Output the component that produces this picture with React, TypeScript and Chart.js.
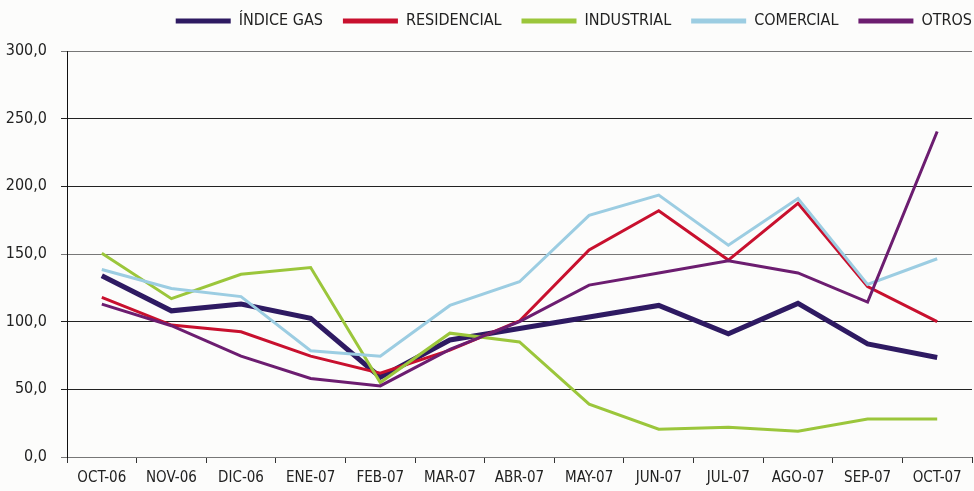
import React, { useEffect, useRef } from "react";
import { Chart, registerables } from "chart.js";

Chart.register(...registerables);

const categories = ["OCT-06", "NOV-06", "DIC-06", "ENE-07", "FEB-07", "MAR-07", "ABR-07", "MAY-07", "JUN-07", "JUL-07", "AGO-07", "SEP-07", "OCT-07"];
const indiceGas = [134, 108, 113, 102.5, 59, 86.5, 95, 103.5, 112, 91, 113.5, 83.5, 73.5];
const residencial = [118, 97.5, 92.5, 74.5, 62, 79, 100.5, 153, 182, 145.5, 187.5, 126, 100];
const industrial = [150.5, 117, 135, 140, 55, 91.5, 85, 39, 20.5, 22, 19, 28, 28];
const comercial = [138.5, 124.5, 118.5, 78.5, 74.5, 112, 129.5, 178.5, 193.5, 156.5, 191, 127.5, 146.5];
const otros = [113, 97, 74.5, 58, 52.5, 79.5, 100, 127, 136, 145, 136, 114.5, 240.5];
const seriesNames = ["ÍNDICE GAS", "RESIDENCIAL", "INDUSTRIAL", "COMERCIAL", "OTROS"];

const FONT = "'Liberation Sans Narrow', 'DejaVu Sans Condensed', sans-serif";

export default function App() {
  const ref = useRef<HTMLCanvasElement | null>(null);
  useEffect(() => {
    if (!ref.current) return;
    const colors = ["#2e1a62", "#c8102e", "#9bc63b", "#9ccde2", "#6c1d70"];
    const widths = [5, 3, 3, 3, 3];
    const values = [indiceGas, residencial, industrial, comercial, otros];
    const bg = {
      id: "bg",
      beforeDraw(chart: any) {
        const c = chart.ctx;
        c.save();
        c.fillStyle = "#fcfcfb";
        c.fillRect(0, 0, chart.width, chart.height);
        c.restore();
      },
    };
    const legendH = {
      id: "legendH",
      beforeInit(chart: any) {
        const lg = chart.legend;
        if (!lg) return;
        const fit = lg.fit;
        lg.fit = function () {
          fit.call(this);
          this.height = 51;
        };
        const draw = lg.draw;
        lg.draw = function (...args: any[]) {
          const c = this.ctx;
          c.save();
          c.translate(20, -7);
          draw.apply(this, args);
          c.restore();
        };
      },
    };
    const chart = new Chart(ref.current, {
      type: "line",
      data: {
        labels: categories,
        datasets: values.map((v, i) => ({
          label: seriesNames[i],
          data: v,
          borderColor: colors[i],
          backgroundColor: colors[i],
          borderWidth: widths[i],
          pointRadius: 0,
          tension: 0,
          fill: false,
          order: 4 - i,
        })),
      },
      options: {
        responsive: false,
        animation: false,
        layout: { padding: { left: 0, right: 2, top: 0, bottom: 0 } },
        plugins: {
          tooltip: { enabled: false },
          legend: {
            position: "top",
            align: "end",
            labels: {
              boxWidth: 55,
              boxHeight: 5,
              padding: 20,
              color: "#222",
              font: { family: FONT, size: 16 },
              sort: (a: any, b: any) => a.datasetIndex - b.datasetIndex,
              generateLabels: (chart: any) =>
                chart.data.datasets.map((d: any, i: number) => ({
                  text: d.label,
                  fillStyle: d.borderColor,
                  strokeStyle: d.borderColor,
                  lineWidth: 0,
                  hidden: false,
                  datasetIndex: i,
                  fontColor: "#222",
                })),
            },
          },
        },
        scales: {
          x: {
            type: "category",
            offset: true,
            afterFit(scale: any) {
              scale.height = 34;
            },
            grid: {
              offset: true,
              drawOnChartArea: false,
              drawTicks: true,
              tickLength: 6,
              color: "#333",
            },
            border: { display: false },
            ticks: {
              color: "#222",
              font: { family: FONT, size: 15 },
              padding: 6,
              maxRotation: 0,
              autoSkip: false,
            },
          },
          y: {
            min: 0,
            max: 300,
            afterFit(scale: any) {
              scale.width = 67;
            },
            grid: {
              color: (ctx: any) => {
                const v = ctx.tick ? ctx.tick.value : 0;
                return v === 0 || v === 150 || v === 300 ? "#777" : "#222";
              },
              lineWidth: 1,
              tickLength: 6,
            },
            border: { display: true, color: "#111", width: 1 },
            ticks: {
              stepSize: 50,
              color: "#222",
              padding: 14,
              font: { family: FONT, size: 16 },
              callback: (v: any) => Number(v).toFixed(1).replace(".", ","),
            },
          },
        },
      },
      plugins: [bg, legendH],
    });
    return () => chart.destroy();
  }, []);
  return (
    <div style={{ position: "fixed", left: 0, top: 0, width: 974, height: 491 }}>
      <canvas ref={ref} width={974} height={491} style={{ width: 974, height: 491 }} />
    </div>
  );
}
